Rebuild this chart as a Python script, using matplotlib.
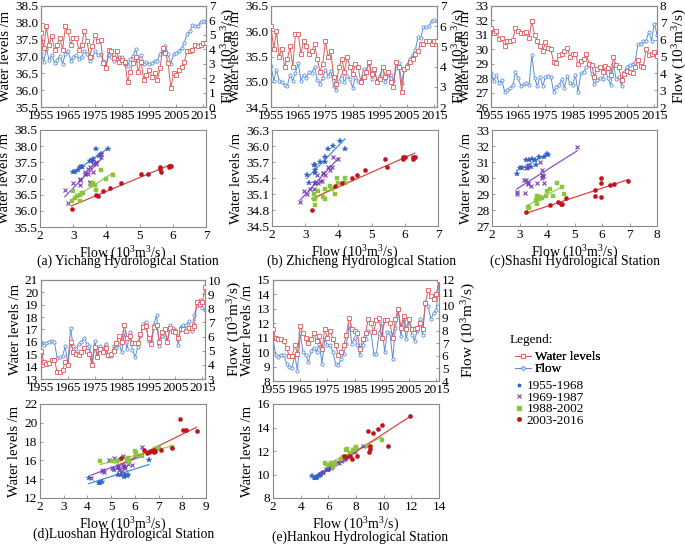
import numpy as np
import matplotlib
matplotlib.use("Agg")
import matplotlib.pyplot as plt
from matplotlib.lines import Line2D

plt.rcParams['font.family'] = ['Liberation Serif', 'DejaVu Serif']
plt.rcParams['font.size'] = 10
plt.rcParams['mathtext.fontset'] = 'custom'
plt.rcParams['mathtext.rm'] = 'Liberation Serif'
plt.rcParams['mathtext.it'] = 'Liberation Serif:italic'
plt.rcParams['mathtext.bf'] = 'Liberation Serif:bold'

years = list(range(1955, 2017))
period_labels = ['1955-1968', '1969-1987', '1988-2002', '2003-2016']
period_slices = [(0, 14), (14, 33), (33, 48), (48, 62)]

# ---------------- Yichang ----------------
yc_level = [37.70, 37.25, 37.90, 37.35, 37.60, 37.20, 37.35, 37.55, 37.20, 37.90, 37.75, 37.35, 37.55, 37.55,
            37.20, 37.35, 37.75, 37.45, 37.00, 37.30, 37.65, 37.45, 37.50, 36.80, 36.65, 37.20, 37.15, 36.95, 37.15, 36.85, 36.90, 36.85, 36.25,
            36.55, 36.80, 37.00, 36.55, 36.85, 36.30, 36.45, 36.60, 36.40, 36.50, 36.30, 36.65, 37.25, 37.10, 36.80,
            36.05, 36.50, 36.45, 36.60, 36.70, 36.85, 37.15, 37.15, 37.20, 37.35, 37.30, 37.35, 37.40, 37.40]
yc_flow = [3.77, 3.15, 4.05, 3.25, 3.60, 3.05, 3.25, 3.55, 3.00, 3.70, 3.85, 3.20, 3.50, 3.60,
           3.35, 3.50, 3.85, 3.70, 3.20, 3.45, 3.85, 3.60, 3.70, 3.20, 2.75, 3.60, 3.45, 3.20, 3.35, 3.50, 3.50, 3.00, 2.85,
           3.30, 3.55, 4.00, 3.25, 3.60, 2.95, 3.10, 3.00, 3.05, 3.20, 3.20, 3.70, 3.85, 4.20, 3.65,
           2.95, 3.70, 3.75, 3.90, 4.10, 4.45, 5.05, 5.25, 5.65, 5.60, 5.60, 5.90, 5.95, 5.90]

# ---------------- Zhicheng ----------------
zc_level = [36.10, 35.65, 36.00, 35.50, 35.65, 35.30, 35.45, 35.70, 35.30, 35.95, 35.95, 35.55, 35.80, 35.70,
            35.55, 35.60, 35.75, 35.45, 35.20, 35.35, 35.80, 35.50, 35.60, 35.10, 34.95, 35.30, 35.45, 35.20, 35.50, 35.30, 35.15, 35.35, 35.30,
            35.00, 35.10, 35.20, 35.40, 35.15, 35.25, 35.00, 35.05, 35.30, 35.10, 35.20, 35.00, 34.90, 35.40, 35.30,
            34.80, 35.25, 35.30, 35.40, 35.45, 35.55, 35.60, 35.75, 35.75, 35.80, 35.80, 35.75, 35.80, 35.80]
zc_flow = [4.05, 3.30, 3.85, 3.30, 3.25, 3.10, 3.05, 3.60, 3.30, 3.70, 4.20, 3.30, 3.60, 3.45,
           3.75, 3.70, 4.00, 3.35, 3.15, 3.45, 3.85, 3.55, 3.80, 3.05, 2.85, 3.30, 3.60, 3.25, 3.55, 3.40, 2.95, 3.50, 3.30,
           3.25, 3.90, 3.80, 4.20, 3.40, 3.75, 3.30, 3.55, 4.00, 3.25, 3.60, 3.60, 3.30, 3.95, 4.20,
           3.20, 3.90, 4.10, 4.40, 4.55, 4.80, 5.45, 5.40, 5.95, 5.95, 6.00, 6.25, 6.30, 6.25]

# ---------------- Shashi ----------------
ss_level = [31.50, 31.10, 31.30, 30.70, 30.80, 30.25, 30.60, 30.60, 30.65, 31.45, 31.30, 31.10, 31.15, 31.20,
            30.80, 31.95, 31.00, 30.60, 30.20, 29.85, 30.50, 30.10, 30.00, 29.10, 29.05, 29.60, 29.70, 29.90, 30.10, 29.50, 29.70, 29.70, 29.00,
            29.20, 29.30, 29.70, 29.00, 28.90, 28.10, 28.60, 28.80, 28.40, 28.85, 28.70, 28.20, 29.45, 28.90, 28.75,
            27.85, 28.30, 28.50, 28.40, 28.35, 28.75, 29.25, 28.85, 28.80, 30.00, 29.60, 29.70, 29.80, 29.55]
ss_flow = [4.00, 3.55, 3.90, 3.40, 3.60, 2.90, 3.00, 3.10, 3.30, 4.05, 3.70, 3.25, 3.35, 3.45,
           3.30, 5.10, 3.75, 3.25, 3.80, 3.25, 3.80, 3.85, 3.80, 2.90, 3.20, 3.30, 3.65, 3.15, 3.85, 3.40, 3.30, 3.90, 2.90,
           4.00, 4.10, 4.35, 4.60, 3.95, 3.35, 3.60, 3.75, 3.65, 4.20, 3.70, 3.30, 4.55, 3.65, 3.80,
           3.25, 4.10, 4.40, 4.50, 4.55, 4.70, 5.75, 5.75, 5.95, 5.95, 6.45, 5.95, 6.95, 6.30]

# ---------------- Luoshan ----------------
ls_level = [15.30, 14.40, 14.20, 14.30, 14.50, 14.50, 13.60, 13.60, 13.70, 14.40, 14.10, 16.00, 15.20, 15.00,
            14.90, 15.20, 15.50, 15.30, 15.00, 14.10, 15.60, 14.80, 15.40, 15.20, 15.50, 14.90, 15.00, 15.30, 15.90, 16.50, 16.00, 17.40, 16.30,
            16.50, 15.90, 15.90, 15.90, 16.60, 17.20, 17.30, 16.30, 15.80, 17.20, 17.40, 16.00, 16.80, 17.00, 16.00,
            17.10, 16.90, 16.80, 16.30, 17.00, 17.00, 16.90, 17.10, 17.10, 17.30, 19.20, 19.10, 19.20, 20.40]
ls_flow = [5.60, 5.40, 5.55, 5.65, 5.70, 5.60, 4.50, 4.55, 4.60, 5.30, 4.05, 6.60, 5.30, 5.10,
           5.45, 5.60, 5.90, 5.50, 5.35, 4.15, 5.70, 4.70, 5.30, 5.05, 5.50, 4.60, 4.65, 5.30, 5.20, 5.50, 4.90, 6.30, 5.10,
           6.30, 5.05, 4.55, 5.25, 6.05, 6.90, 7.00, 5.70, 5.75, 6.85, 7.55, 5.35, 6.05, 6.00, 5.65,
           6.80, 6.60, 6.50, 5.40, 6.70, 6.85, 6.80, 7.10, 6.40, 7.55, 8.15, 8.60, 8.05, 7.90]

# ---------------- Hankou ----------------
hk_level = [11.6, 11.0, 10.9, 10.9, 10.8, 10.3, 9.7, 9.7, 10.5, 9.9, 11.8,
            11.3, 11.0, 10.6, 10.9, 11.3, 10.8, 11.1, 10.2, 11.6, 11.0, 11.5, 10.9, 10.5, 9.8, 10.0, 10.5, 11.2,
            12.4,
            11.6, 11.5, 11.3, 10.2, 10.9, 11.3, 12.3, 12.0, 11.4, 12.2, 12.4, 11.0, 12.2, 12.2, 12.0, 11.0, 12.3,
            13.0,
            11.7, 12.5, 11.6, 12.3, 11.6, 11.6, 11.7, 12.0, 11.6, 13.4, 14.3, 13.9, 13.7, 14.0, 15.0]
hk_flow = [7.31, 6.06, 5.94, 6.06, 6.06, 5.37, 5.14, 5.03, 6.06, 4.80, 7.77, 6.29, 6.06, 5.49, 6.40, 6.63,
           6.29, 6.97, 5.37, 7.31, 6.86, 6.86, 6.29, 5.37, 5.26, 5.71, 6.17, 6.97, 8.46, 6.97, 7.43, 6.86,
           6.06, 6.86, 7.31, 8.00, 7.89, 6.17, 6.17, 7.77, 8.57, 6.29, 7.89, 7.77, 5.71, 8.23, 9.71, 7.54,
           8.91, 7.31, 8.91, 7.66, 7.20, 8.00, 8.91, 7.66, 10.29, 9.94, 8.91, 9.37, 9.60, 12.00]
# Hankou scatter (as drawn in the reference, per period)
hk_sc_flow = [[4.85, 5.0, 5.1, 5.2, 5.4, 5.5, 5.6, 6.0, 6.05, 6.05, 6.1, 6.0, 5.3, 5.15],
              [5.4, 5.8, 6.1, 6.3, 6.5, 6.6, 6.8, 7.0, 7.1, 7.3, 7.5, 7.6, 7.9, 8.5, 6.2, 6.9, 7.2, 6.4, 5.6],
              [5.75, 6.0, 6.2, 6.35, 6.5, 6.9, 7.05, 7.25, 7.35, 7.6, 7.8, 7.9, 8.0, 8.8, 9.85],
              [7.15, 7.3, 7.6, 7.7, 8.1, 8.9, 8.95, 9.0, 9.0, 9.25, 9.6, 9.9, 10.3, 11.9]]
hk_sc_level = [[9.85, 9.7, 9.7, 9.75, 10.0, 10.05, 10.1, 10.4, 10.6, 10.5, 10.65, 10.35, 9.9, 9.8],
               [10.05, 10.5, 10.7, 10.8, 10.95, 11.05, 11.0, 11.2, 11.3, 11.5, 11.6, 11.7, 11.95, 12.4, 10.55, 11.15, 11.35, 10.9, 10.2],
               [10.95, 10.85, 10.95, 10.6, 11.0, 11.3, 11.5, 12.05, 12.15, 11.8, 12.1, 12.2, 12.3, 12.45, 12.9],
               [11.6, 11.5, 11.55, 11.35, 11.6, 13.7, 11.95, 12.2, 12.45, 13.5, 13.9, 14.25, 12.45, 14.95]]

RED = '#e0585a'
BLUE = '#5a8ed8'
SPINE = '#8a8a8a'
sc_colors = ['#2f62c4', '#7b3fb0', '#8cc43c', '#c0141c']
ln_colors = ['#4a8ad8', '#8a4fc8', '#96cc58', '#d84848']
sc_markers = ['*', 'x', 's', 'o']
sc_sizes = [3.8, 3.2, 3.0, 3.0]

FLOW_LABEL = 'Flow (10$^3$m$^3$/s)'
TICK_FS = 9.5

W, H = 685, 544
fig = plt.figure(figsize=(W / 100, H / 100), dpi=100)


def rect(l, r, t, b):
    return [l / W, 1 - b / H, (r - l) / W, (b - t) / H]


def style(ax):
    for s in ax.spines.values():
        s.set_color(SPINE)
        s.set_linewidth(0.8)
    ax.tick_params(direction='in', length=2.5, width=0.6, color=SPINE, labelsize=TICK_FS, pad=2)


def ts_panel(r, level, flow, lyl, lyt, ryl, ryt, lfmt):
    ax = fig.add_axes(r)
    ax2 = ax.twinx()
    ax.plot(years, level, color=RED, lw=0.7, marker='s', ms=2.3, mfc='white', mec=RED, mew=0.6, zorder=3)
    ax2.plot(years, flow, color=BLUE, lw=0.7, marker='o', ms=2.3, mfc='white', mec=BLUE, mew=0.6)
    ax.set_zorder(ax2.get_zorder() + 1)
    ax.patch.set_visible(False)
    ax.set_xlim(1955, 2016)
    ax.set_xticks(range(1955, 2016, 10))
    ax.set_ylim(*lyl)
    ax.set_yticks(lyt)
    ax.set_yticklabels([lfmt.format(v) for v in lyt])
    ax2.set_ylim(*ryl)
    ax2.set_yticks(ryt)
    ax.set_ylabel('Water levels /m', fontsize=10.5, labelpad=2)
    ax2.set_ylabel(FLOW_LABEL, fontsize=11, labelpad=3)
    style(ax)
    style(ax2)
    return ax


def sc_panel(r, xs_groups, ys_groups, xl, xt, yl, yt, yfmt, caption, cap_xy):
    ax = fig.add_axes(r)
    for i in range(4):
        x = np.array(xs_groups[i])
        y = np.array(ys_groups[i])
        k, b = np.polyfit(x, y, 1)
        xx = np.array([x.min(), x.max()])
        ax.plot(xx, k * xx + b, color=ln_colors[i], lw=0.9, zorder=2)
        mk = sc_markers[i]
        if mk == 'x':
            ax.plot(x, y, ls='none', marker=mk, ms=sc_sizes[i], mec=sc_colors[i], mew=0.8, zorder=3)
        else:
            ax.plot(x, y, ls='none', marker=mk, ms=sc_sizes[i], mfc=sc_colors[i], mec=sc_colors[i], mew=0.3, zorder=3)
    ax.set_xlim(*xl)
    ax.set_xticks(xt)
    ax.set_ylim(*yl)
    ax.set_yticks(yt)
    ax.set_yticklabels([yfmt.format(v) for v in yt])
    ax.set_xlabel(FLOW_LABEL, fontsize=10, labelpad=2)
    ax.set_ylabel('Water levels /m', fontsize=10.5, labelpad=2)
    style(ax)
    fig.text(cap_xy[0] / W, 1 - cap_xy[1] / H, caption, ha='center', va='center', fontsize=9.8)
    return ax


def split(series):
    return [series[a:b] for a, b in period_slices]


# (a) Yichang
ts_panel(rect(41, 206, 6, 107), yc_level, yc_flow, (35.5, 38.5), np.arange(35.5, 38.51, 0.5),
         (0, 7), range(0, 8), '{:.1f}')
sc_panel(rect(40, 206, 130, 227), split(yc_flow), split(yc_level), (2, 7), range(2, 8),
         (35.5, 38.5), np.arange(35.5, 38.51, 0.5), '{:.1f}',
         '(a) Yichang Hydrological Station', (128, 261))

# (b) Zhicheng
ts_panel(rect(271, 437, 6, 107), zc_level, zc_flow, (34.5, 36.5), np.arange(34.5, 36.51, 0.5),
         (2, 7), range(2, 8), '{:.1f}')
sc_panel(rect(272, 438, 130, 226), split(zc_flow), split(zc_level), (2, 7), range(2, 8),
         (34.5, 36.3), np.arange(34.5, 36.31, 0.3), '{:.1f}',
         '(b) Zhicheng Hydrological Station', (362, 261))

# (c) Shashi
ts_panel(rect(491, 657, 6, 107), ss_level, ss_flow, (26, 33), range(26, 34),
         (2, 8), range(2, 9), '{:d}')
sc_panel(rect(492, 657, 130, 226), split(ss_flow), split(ss_level), (2, 8), range(2, 9),
         (27, 33), range(27, 34), '{:d}',
         '(c)Shashi Hydrological Station', (575, 261))

# (d) Luoshan
ts_panel(rect(41, 205, 280, 379), ls_level, ls_flow, (13, 21), range(13, 22),
         (3, 10), range(3, 11), '{:d}')
sc_panel(rect(40, 206, 404, 498), split(ls_flow), split(ls_level), (2, 9), range(2, 10),
         (12, 22), range(12, 23, 2), '{:d}',
         '(d)Luoshan Hydrological Station', (124, 534))

# (e) Hankou
ts_panel(rect(273, 439, 280, 381), hk_level, hk_flow, (8, 15), range(8, 16),
         (4, 12), range(4, 13), '{:d}')
sc_panel(rect(273, 439, 404, 498), hk_sc_flow, hk_sc_level, (2, 14), range(2, 15, 2),
         (8, 16), range(8, 17, 2), '{:d}',
         '(e)Hankou Hydrological Station', (360, 537))

# Legend
fig.text(510 / W, 1 - 340 / H, 'Legend:', ha='left', va='center', fontsize=9.5)
h1 = [Line2D([], [], color=RED, lw=0.7, marker='s', ms=2.3, mfc='white', mec=RED, mew=0.6),
      Line2D([], [], color=BLUE, lw=0.7, marker='o', ms=2.3, mfc='white', mec=BLUE, mew=0.6)]
leg1 = fig.legend(h1, ['Water levels', 'Flow'], loc='upper left', bbox_to_anchor=(515 / W, 1 - 351 / H),
                  frameon=False, fontsize=9.5, handlelength=1.2, handletextpad=0.3, labelspacing=0.0,
                  borderpad=0, borderaxespad=0)
h2 = []
for i in range(4):
    if sc_markers[i] == 'x':
        h2.append(Line2D([], [], ls='none', marker='x', ms=2.5, mec=sc_colors[i], mew=0.8))
    else:
        h2.append(Line2D([], [], ls='none', marker=sc_markers[i], ms=2.5, mfc=sc_colors[i], mec=sc_colors[i]))
leg2 = fig.legend(h2, period_labels, loc='upper left', bbox_to_anchor=(516 / W, 1 - 380 / H),
                  frameon=False, fontsize=9.5, handlelength=0.5, handletextpad=0.3, labelspacing=-0.05,
                  borderpad=0, borderaxespad=0)
fig.add_artist(leg1)

fig.savefig('out.png', dpi=100)
